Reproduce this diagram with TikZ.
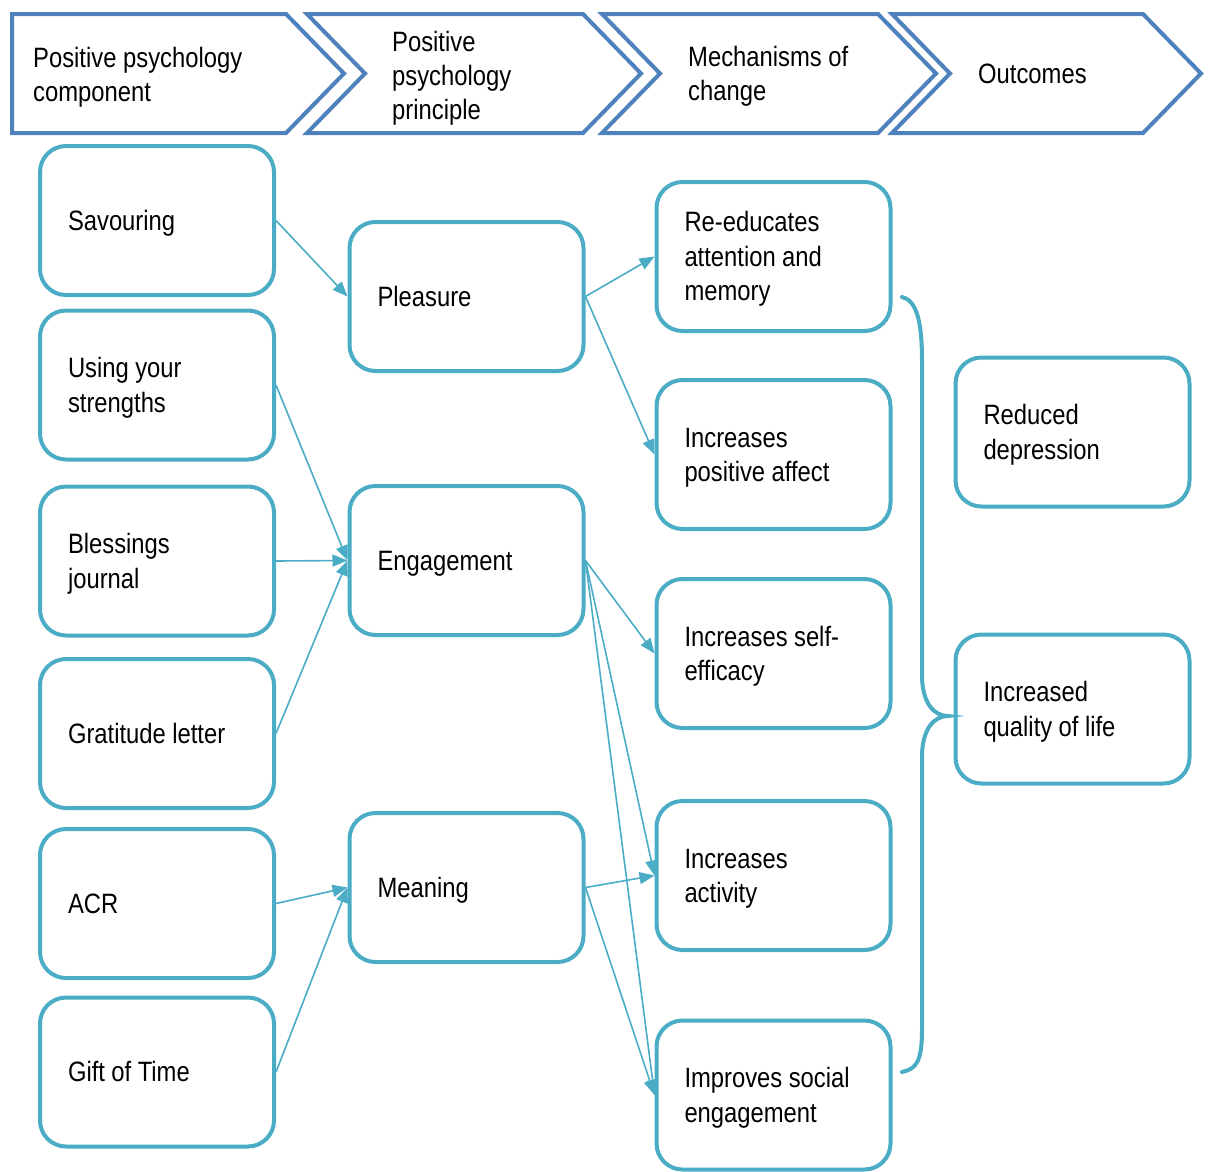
\documentclass[tikz,border=0pt]{standalone}
\usepackage{fontspec}
\setmainfont[FakeStretch=0.85]{Liberation Sans}
\usetikzlibrary{arrows.meta}

\definecolor{chevblue}{HTML}{4F81BD}
\definecolor{boxteal}{HTML}{4BACC6}

\tikzset{
    card/.style={rectangle, rounded corners=26pt, draw=boxteal, line width=4pt, fill=white,
        minimum width=234pt, minimum height=149pt, text width=178pt, inner xsep=28pt,
        align=left, font=\fontsize{28}{34.5}\selectfont,
        execute at begin node={\spaceskip=0.23em\relax\rule{0pt}{25.5pt}},
        execute at end node={\rule[-6pt]{0pt}{6pt}}},
    headtext/.style={anchor=west, inner sep=0pt, align=left, font=\fontsize{28}{34}\selectfont},
    chevron/.style={draw=chevblue, line width=4pt, line join=miter},
    link/.style={draw=boxteal, line width=1.6pt, -{Triangle[length=15pt,width=12pt]}},
}

\begin{document}
\begin{tikzpicture}[x=1pt, y=-1pt]
    \useasboundingbox (0, 0) rectangle (1211, 1171);

    % header
    \draw[chevron] (12, 14) -- (286, 14) -- (344, 73.5) -- (286, 133) -- (12, 133) -- cycle;
    \draw[chevron] (307, 14) -- (583, 14) -- (641, 73.5) -- (583, 133) -- (307, 133) -- (365, 73.5) -- cycle;
    \draw[chevron] (602, 14) -- (878, 14) -- (936, 73.5) -- (878, 133) -- (602, 133) -- (660, 73.5) -- cycle;
    \draw[chevron] (892, 14) -- (1143, 14) -- (1201, 73.5) -- (1143, 133) -- (892, 133) -- (950, 73.5) -- cycle;
    \node[headtext] (hcomp) at (33, 77.5) {Positive psychology\\component};
    \node[headtext] (hprin) at (392, 78) {Positive\\psychology\\principle};
    \node[headtext] (hmech) at (688, 76.5) {Mechanisms of\\change};
    \node[headtext] (hout) at (978, 74) {Outcomes};

    % components
    \node[card] (savouring) at (157, 220.5) {Savouring};
    \node[card] (strengths) at (157, 385) {Using your\\strengths};
    \node[card] (blessings) at (157, 561) {Blessings\\journal};
    \node[card] (gratitude) at (157, 733.5) {Gratitude letter};
    \node[card] (acr) at (157, 903.5) {ACR};
    \node[card] (gift) at (157, 1072) {Gift of Time};

    % principles
    \node[card] (pleasure) at (466.5, 296.5) {Pleasure};
    \node[card] (engagement) at (466.5, 560.5) {Engagement};
    \node[card] (meaning) at (466.5, 887.5) {Meaning};

    % mechanisms
    \node[card] (reeducate) at (773.5, 256.5) {Re-educates\\attention and\\memory};
    \node[card] (posaffect) at (773.5, 454.5) {Increases\\positive affect};
    \node[card] (selfeff) at (773.5, 653.5) {Increases self-\\efficacy};
    \node[card] (activity) at (773.5, 875.5) {Increases\\activity};
    \node[card] (social) at (773.5, 1095) {Improves social\\engagement};

    % outcomes
    \node[card] (depression) at (1072.5, 432) {Reduced\\depression};
    \node[card] (quality) at (1072.5, 709) {Increased\\quality of life};

    \draw[link] (savouring.east) -- (pleasure.west);
    \draw[link] (strengths.east) -- (engagement.west);
    \draw[link] (blessings.east) -- (engagement.west);
    \draw[link] (gratitude.east) -- (engagement.west);
    \draw[link] (acr.east) -- (meaning.west);
    \draw[link] (gift.east) -- (meaning.west);

    \draw[link] (pleasure.east) -- (reeducate.west);
    \draw[link] (pleasure.east) -- (posaffect.west);
    \draw[link] (engagement.east) -- (selfeff.west);
    \draw[link] (engagement.east) -- (activity.west);
    \draw[link] (engagement.east) -- (social.west);
    \draw[link] (meaning.east) -- (activity.west);
    \draw[link] (meaning.east) -- (social.west);

    % brace
    \coordinate (bracetip) at (948, 716);
    \draw[boxteal, line width=4pt, line cap=round]
        (902, 297) .. controls (916, 300) and (922, 320) .. (922, 360) -- (922, 675)
        .. controls (922, 703) and (934, 716) .. (bracetip)
        .. controls (934, 716) and (922, 729) .. (922, 757) -- (922, 1030)
        .. controls (922, 1062) and (916, 1069) .. (902, 1072);
\end{tikzpicture}
\end{document}
